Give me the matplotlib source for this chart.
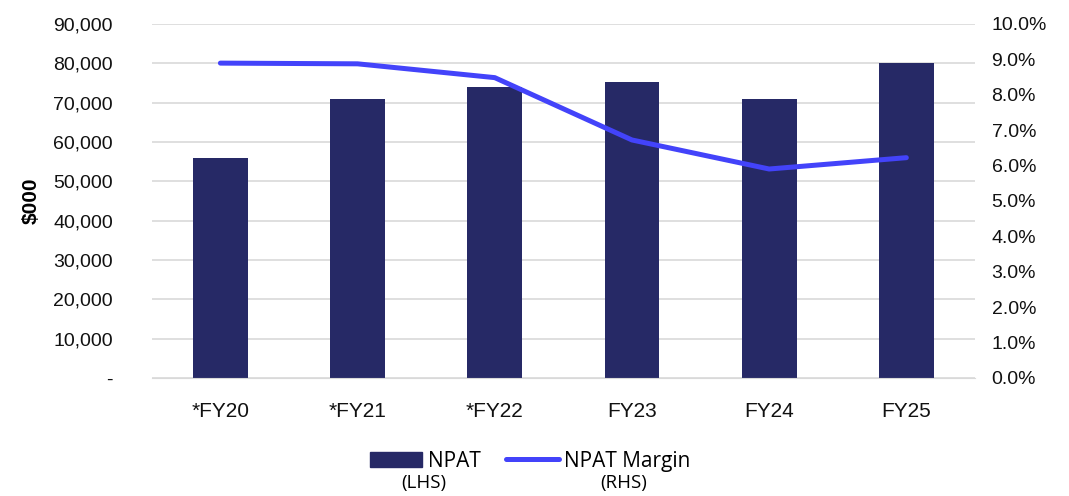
import matplotlib.pyplot as plt
from matplotlib.ticker import FuncFormatter
from matplotlib.patches import Patch
from matplotlib.lines import Line2D

plt.rcParams['font.family'] = ['Liberation Sans', 'DejaVu Sans']

# data
years = ['*FY20', '*FY21', '*FY22', 'FY23', 'FY24', 'FY25']
npat = [56000, 71000, 74000, 75300, 71000, 80100]
margin = [8.89, 8.87, 8.48, 6.72, 5.90, 6.22]

bar_col = '#262966'
line_col = '#4343FA'

fig = plt.figure(figsize=(10.69, 4.96), dpi=100)
ax = fig.add_axes([0.142, 0.238, 0.77, 0.714])
ax2 = ax.twinx()

x = range(len(years))
ax.bar(x, npat, width=0.4, color=bar_col, zorder=2)
ax2.plot(x, margin, color=line_col, lw=3.6, solid_capstyle='round', zorder=3)

ax.set_ylim(0, 90000)
ax.set_yticks(range(0, 90001, 10000))
ax.yaxis.set_major_formatter(FuncFormatter(lambda v, p: '-' if v == 0 else f'{v:,.0f}'))
ax2.set_ylim(0, 10)
ax2.set_yticks([i for i in range(0, 11)])
ax2.yaxis.set_major_formatter(FuncFormatter(lambda v, p: f'{v:.1f}%'))

ax.set_xlim(-0.5, 5.5)
ax.set_xticks(list(x))
ax.set_xticklabels(years)

ax.grid(axis='y', color='#d9d9d9', lw=1.2, zorder=0)
ax.set_axisbelow(True)
for a in (ax, ax2):
    for s in a.spines.values():
        s.set_visible(False)
    a.tick_params(length=0, colors='#111111')
ax.tick_params(axis='y', pad=28, labelsize=14)
ax.tick_params(axis='x', pad=17, labelsize=15)
ax2.tick_params(axis='y', pad=12, labelsize=14)
ax.spines['bottom'].set_visible(True)
ax.spines['bottom'].set_color('#d9d9d9')

ax.set_ylabel('$000', fontsize=15, fontweight='bold')
ax.yaxis.set_label_coords(-0.135, 0.5)

handles = [Patch(color=bar_col), Line2D([0], [0], color=line_col, lw=3.6, solid_capstyle='round')]
fig.legend(handles, ['NPAT', 'NPAT Margin'], loc='center', bbox_to_anchor=(0.496, 0.07),
           ncol=2, frameon=False, prop={'family': 'Open Sans', 'size': 15},
           handlelength=2.5, handletextpad=0.25, columnspacing=1.25)
fig.text(0.396, 0.016, '(LHS)', ha='center', fontsize=13.5, family='Open Sans')
fig.text(0.583, 0.016, '(RHS)', ha='center', fontsize=13.5, family='Open Sans')

plt.savefig('out.png')
